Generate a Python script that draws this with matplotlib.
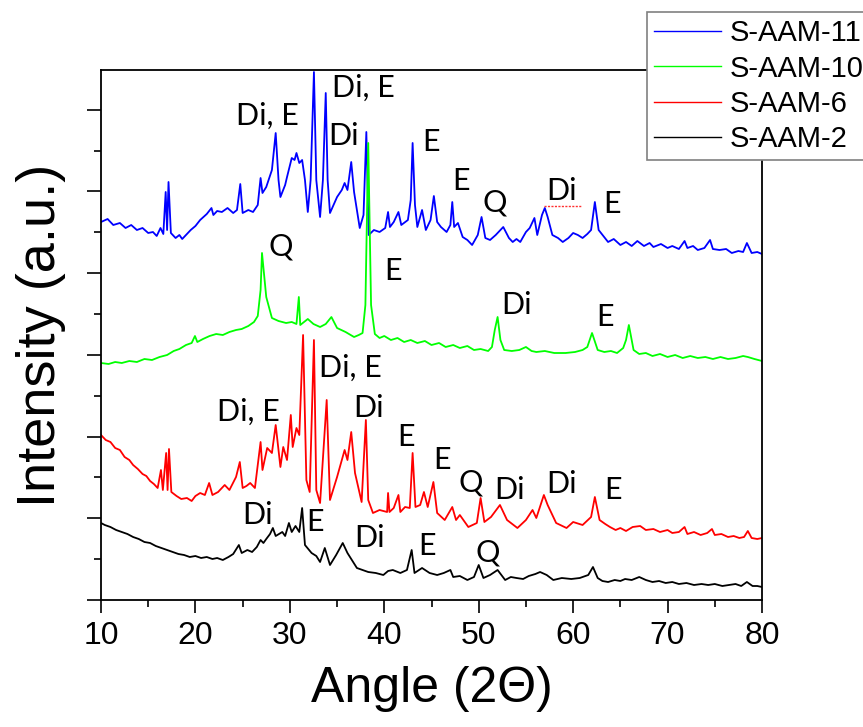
import matplotlib
matplotlib.use("Agg")
import matplotlib.pyplot as plt
from matplotlib.ticker import MultipleLocator

# ---------------- data (2-theta in degrees, intensity in a.u.) ----------------
blue_x = [10.0, 10.7, 11.3, 12.0, 12.6, 13.2, 13.8, 14.4, 15.0, 15.5,
          15.9, 16.3, 16.6, 16.85, 17.0, 17.15, 17.4, 17.9, 18.3, 18.6,
          19.1, 19.5, 20.0, 20.5, 21.2, 21.7, 21.9, 22.3, 22.8, 23.4,
          24.0, 24.4, 24.75, 25.0, 25.6, 26.1, 26.6, 26.9, 27.1, 27.5,
          28.1, 28.5, 28.8, 29.0, 29.5, 29.7, 30.2, 30.5, 30.7, 31.0,
          31.3, 31.6, 31.9, 32.2, 32.55, 32.8, 33.2, 33.5, 33.8, 34.0,
          34.25, 35.0, 35.5, 35.8, 36.1, 36.5, 36.8, 37.4, 37.8, 38.1,
          38.35, 38.9, 39.5, 40.1, 40.4, 40.6, 41.0, 41.5, 41.8, 42.5,
          42.8, 43.0, 43.25, 43.5, 44.0, 44.4, 44.9, 45.25, 45.6, 46.0,
          46.6, 47.0, 47.2, 47.4, 47.8, 48.3, 48.8, 49.3, 49.9, 50.3,
          50.7, 51.2, 51.8, 52.6, 53.2, 53.6, 54.0, 54.4, 55.0, 55.4,
          55.9, 56.2, 56.7, 57.0, 57.3, 57.8, 58.4, 58.9, 59.5, 60.0,
          60.5, 61.0, 61.5, 61.9, 62.3, 62.7, 63.2, 63.7, 64.3, 65.0,
          65.6, 66.2, 66.8, 67.5, 68.1, 68.5, 69.3, 70.0, 70.5, 71.2,
          71.8, 72.1, 72.7, 73.2, 73.9, 74.5, 74.8, 75.5, 76.2, 76.8,
          77.5, 78.0, 78.4, 78.9, 79.5, 80.0]
blue_y = [378, 381, 375, 377, 372, 375, 370, 372, 367, 368,
          364, 372, 366, 408, 370, 418, 367, 362, 365, 361,
          366, 370, 374, 380, 386, 392, 385, 389, 388, 392,
          387, 390, 416, 387, 390, 388, 395, 422, 407, 413,
          430, 467, 420, 403, 415, 423, 442, 440, 447, 437,
          440, 420, 388, 420, 528, 420, 383, 420, 507, 420,
          387, 403, 410, 417, 410, 438, 408, 372, 385, 468,
          365, 370, 368, 372, 388, 373, 378, 388, 375, 380,
          400, 457, 395, 373, 390, 370, 380, 404, 378, 373,
          368, 375, 398, 373, 377, 363, 360, 355, 365, 383,
          362, 360, 365, 373, 362, 358, 361, 358, 368, 372,
          382, 365, 385, 392, 383, 365, 362, 358, 362, 367,
          365, 362, 366, 370, 398, 370, 364, 358, 361, 355,
          358, 354, 359, 354, 357, 353, 356, 352, 354, 351,
          359, 352, 354, 350, 352, 360, 351, 350, 351, 347,
          349, 348, 357, 347, 348, 346]

green_x = [10.0, 10.8, 11.5, 12.2, 13.0, 13.8, 14.6, 15.4, 16.2, 17.0,
           17.7, 18.3, 19.0, 19.6, 19.95, 20.2, 20.8, 21.5, 22.2, 22.9,
           23.6, 24.3, 24.9, 25.6, 26.2, 26.6, 26.9, 27.05, 27.5, 28.1,
           28.8, 29.6, 30.2, 30.7, 30.95, 31.1, 31.5, 31.9, 32.5, 33.2,
           33.8, 34.4, 35.0, 35.9, 36.8, 37.3, 37.7, 38.0, 38.3, 38.6,
           39.0, 39.5, 40.0, 40.7, 41.4, 42.1, 42.8, 43.5, 44.3, 45.0,
           45.8, 46.5, 47.3, 48.0, 48.8, 49.5, 50.2, 51.0, 51.4, 51.7,
           52.0, 52.3, 52.7, 53.5, 54.3, 55.0, 55.6, 56.1, 57.0, 58.0,
           59.2, 60.2, 61.0, 61.5, 62.0, 62.6, 63.3, 64.0, 64.65, 65.3,
           65.6, 65.9, 66.4, 67.0, 67.7, 68.4, 69.2, 70.0, 70.8, 71.6,
           72.4, 73.2, 74.0, 74.8, 75.6, 76.4, 77.2, 78.0, 78.5, 79.2,
           80.0]
green_y = [237, 236, 238, 237, 239, 238, 241, 240, 243, 245,
           249, 251, 255, 257, 264, 258, 261, 264, 266, 265,
           268, 270, 271, 274, 278, 284, 310, 347, 303, 282,
           279, 277, 278, 276, 303, 275, 278, 281, 276, 273,
           276, 283, 272, 268, 263, 265, 267, 295, 457, 295,
           266, 262, 264, 260, 262, 258, 260, 257, 259, 255,
           257, 253, 255, 252, 254, 250, 251, 249, 253, 270,
           283, 260, 250, 249, 250, 253, 249, 248, 249, 247,
           247, 248, 250, 253, 267, 250, 248, 249, 247, 252,
           260, 275, 250, 246, 247, 244, 246, 243, 245, 242,
           244, 242, 243, 241, 243, 241, 242, 244, 243, 241,
           239]

red_x = [10.0, 10.5, 11.0, 11.5, 12.0, 12.5, 13.0, 13.4, 13.9, 14.4,
         14.8, 15.2, 15.6, 16.0, 16.35, 16.55, 16.9, 17.05, 17.2, 17.45,
         18.0, 18.5, 19.1, 19.6, 20.0, 20.5, 21.0, 21.45, 21.8, 22.4,
         23.1, 23.6, 24.3, 24.7, 25.0, 25.4, 25.8, 26.3, 26.9, 27.1,
         27.6, 28.1, 28.5, 29.0, 29.3, 29.7, 30.1, 30.3, 30.7, 31.0,
         31.4, 31.75, 32.1, 32.55, 32.8, 33.2, 33.9, 34.25, 35.0, 35.8,
         36.1, 36.5, 36.9, 37.6, 38.05, 38.3, 38.8, 39.5, 40.3, 40.4,
         40.55, 41.0, 41.5, 41.7, 42.2, 42.7, 43.0, 43.3, 43.8, 44.2,
         44.6, 45.2, 45.6, 46.4, 47.2, 47.6, 48.0, 48.9, 49.8, 50.2,
         50.6, 51.3, 52.25, 53.0, 54.1, 55.0, 55.7, 56.1, 56.9, 57.3,
         58.2, 59.3, 60.0, 61.0, 61.9, 62.3, 62.8, 63.4, 63.9, 64.5,
         65.0, 65.6, 66.3, 67.1, 67.7, 68.5, 69.2, 70.0, 70.5, 71.2,
         71.8, 72.1, 72.8, 73.5, 74.2, 74.7, 75.0, 75.7, 76.4, 77.0,
         77.6, 78.1, 78.5, 78.9, 79.5, 80.0]
red_y = [165, 160, 158, 152, 150, 143, 140, 135, 131, 126,
         124, 119, 116, 112, 130, 110, 147, 110, 151, 108,
         104, 101, 102, 99, 104, 107, 105, 117, 105, 108,
         115, 110, 123, 138, 112, 114, 117, 112, 158, 130,
         152, 147, 175, 133, 153, 140, 185, 153, 172, 165,
         265, 120, 108, 260, 110, 97, 200, 100, 123, 150,
         140, 168, 127, 98, 180, 100, 87, 90, 88, 107,
         88, 92, 105, 88, 93, 92, 147, 93, 95, 108,
         93, 118, 87, 80, 93, 80, 85, 73, 77, 102,
         78, 83, 95, 80, 72, 80, 90, 82, 105, 95,
         77, 72, 78, 75, 83, 103, 80, 76, 73, 70,
         72, 69, 73, 74, 70, 71, 68, 70, 67, 68,
         73, 66, 68, 65, 67, 71, 65, 66, 63, 64,
         62, 63, 69, 62, 61, 62]

black_x = [10.0, 10.4, 11.0, 11.6, 12.2, 12.8, 13.4, 14.0, 14.6, 15.2,
           15.8, 16.4, 17.0, 17.6, 18.2, 18.8, 19.4, 20.0, 20.6, 21.2,
           21.8, 22.3, 22.9, 23.5, 24.0, 24.6, 24.9, 25.5, 26.0, 26.5,
           26.9, 27.2, 27.5, 27.9, 28.2, 28.5, 29.2, 29.5, 29.9, 30.2,
           30.6, 31.0, 31.3, 31.6, 32.3, 32.8, 33.2, 33.7, 34.25, 34.9,
           35.6, 36.1, 37.1, 37.7, 38.3, 39.1, 39.9, 40.4, 40.9, 41.7,
           42.4, 42.9, 43.2, 44.0, 44.8, 45.6, 46.3, 47.0, 47.3, 48.0,
           48.8, 49.5, 50.0, 50.5, 51.2, 52.0, 52.8, 53.4, 54.0, 54.7,
           55.3, 56.0, 56.5, 57.2, 57.9, 58.8, 59.8, 60.7, 61.6, 62.1,
           62.6, 63.1, 63.7, 64.4, 65.0, 65.5, 66.2, 67.0, 67.7, 68.4,
           69.1, 69.8, 70.5, 71.2, 72.0, 72.8, 73.6, 74.3, 75.0, 75.8,
           76.5, 77.2, 77.8, 78.4, 79.0, 79.5, 80.0]
black_y = [77, 75, 73, 70, 68, 66, 63, 61, 58, 57,
           54, 52, 50, 48, 46, 45, 43, 44, 42, 43,
           41, 42, 40, 43, 46, 55, 47, 50, 48, 53,
           60, 57, 61, 66, 72, 64, 68, 64, 77, 68,
           74, 68, 92, 55, 47, 44, 38, 52, 35, 45,
           57, 47, 32, 30, 28, 27, 25, 29, 30, 27,
           30, 50, 27, 32, 27, 25, 27, 30, 23, 24,
           20, 23, 35, 22, 25, 30, 20, 23, 22, 21,
           24, 26, 28, 25, 20, 22, 21, 22, 25, 33,
           22, 19, 18, 20, 19, 21, 20, 23, 20, 18,
           19, 17, 18, 16, 17, 15, 16, 15, 16, 14,
           15, 16, 14, 18, 14, 14, 13]

series_names = ["S-AAM-11", "S-AAM-10", "S-AAM-6", "S-AAM-2"]
series_colors = ["#0000ff", "#00ff00", "#ff0000", "#000000"]

# phase labels: text, 2-theta, intensity
label_text = ["Di, E", "Di, E", "Di", "E", "E", "Q", "Di", "E",
              "Q", "E", "Di", "E",
              "Di, E", "Di, E", "Di", "E", "E", "Q", "Di", "Di", "E",
              "Di", "E", "Di", "E", "Q"]
label_x = [27.6, 37.75, 35.7, 44.95, 48.1, 51.7, 58.8, 64.1,
           29.06, 40.9, 54.05, 63.4,
           25.6, 36.4, 38.3, 42.3, 46.1, 49.1, 53.3, 58.8, 64.2,
           26.6, 32.7, 38.4, 44.5, 50.9]
label_y = [484, 512, 464, 458, 419, 397, 409, 396,
           353, 329, 295, 283,
           188, 232, 192, 163, 140, 117, 110, 116, 110,
           85, 78, 62, 54, 48]
squiggle_x = [56.9, 60.9]
squiggle_y = [394, 394]

# ---------------- figure ----------------
fig = plt.figure(figsize=(8.63, 7.27), dpi=100)
ax = fig.add_axes([101 / 863, 1 - 600 / 727, 661 / 863, 530 / 727])

xs = [blue_x, green_x, red_x, black_x]
ys = [blue_y, green_y, red_y, black_y]
handles = []
for x, y, c, n in zip(xs, ys, series_colors, series_names):
    h, = ax.plot(x, y, color=c, lw=1.3, label=n)
    handles.append(h)

for t, x, y in zip(label_text, label_x, label_y):
    ax.text(x, y, t, ha="center", va="center", fontsize=22, family=["Lato", "DejaVu Sans"])
ax.plot(squiggle_x, squiggle_y, color="#ff3030", lw=1.0, ls=(0, (1.5, 1)))

ax.set_xlim(10, 80)
ax.set_ylim(0, 530)
ax.xaxis.set_major_locator(MultipleLocator(10))
ax.xaxis.set_minor_locator(MultipleLocator(5))
ax.yaxis.set_major_locator(MultipleLocator(81.7))
ax.yaxis.set_minor_locator(MultipleLocator(40.85))
ax.tick_params(axis="y", which="major", direction="out", length=10, width=1.2, labelleft=False)
ax.tick_params(axis="y", which="minor", direction="out", length=5, width=1.2)
ax.tick_params(axis="x", which="major", direction="out", length=9, width=1.2, pad=6)
ax.tick_params(axis="x", which="minor", direction="out", length=5, width=1.2)
for lab in ax.get_xticklabels():
    lab.set_family(["Liberation Sans", "DejaVu Sans"])
    lab.set_fontsize(23)
for s in ax.spines.values():
    s.set_linewidth(1.3)

ax.set_xlabel("Angle (2\u0398)", fontsize=36, family=["Liberation Sans", "DejaVu Sans"], labelpad=11)
ax.set_ylabel("Intensity (a.u.)", fontsize=39, family=["Liberation Sans", "DejaVu Sans"], labelpad=15)

leg = fig.legend(handles=handles, labels=series_names, loc="upper left",
                 bbox_to_anchor=(647 / 863, 1 - 12 / 727), bbox_transform=fig.transFigure,
                 prop={"family": ["Liberation Sans", "DejaVu Sans"], "size": 21},
                 handlelength=2.3, handletextpad=0.3, borderpad=0.25, labelspacing=0.25,
                 fancybox=False, framealpha=1, edgecolor="#808080", borderaxespad=0)
leg.get_frame().set_linewidth(1.2)
for lh in leg.get_lines():
    lh.set_linewidth(1.0)

fig.savefig("out.png", dpi=100)
